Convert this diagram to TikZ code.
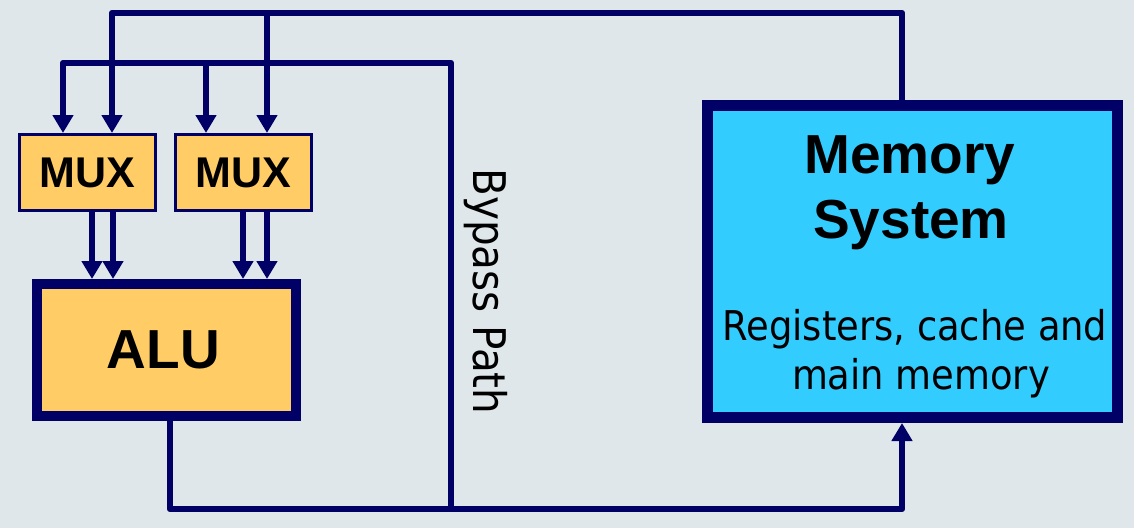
\documentclass[tikz,border=0pt]{standalone}
\usepackage{fontspec}
\setmainfont{Liberation Sans}
\newfontfamily\tahomalike{DejaVu Sans Condensed}
\usetikzlibrary{arrows.meta}
\definecolor{bgcol}{HTML}{DFE7EA}
\definecolor{navy}{HTML}{000066}
\definecolor{aluor}{HTML}{FFCC66}
\definecolor{memblue}{HTML}{33CCFF}
\begin{document}
\begin{tikzpicture}[x=1pt,y=-1pt,
  wire/.style={draw=navy,line width=6.5pt,line join=round},
  arr/.style={wire,-{Triangle[width=20pt,length=18pt]}},
  muxbox/.style={draw=navy,fill=aluor,line width=3pt,minimum width=136pt,minimum height=76pt,inner sep=0pt,font=\bfseries\fontsize{43}{50}\selectfont},
  alubox/.style={draw=navy,fill=aluor,line width=10pt,minimum width=259pt,minimum height=132pt,inner sep=0pt,font=\bfseries\fontsize{55}{64}\selectfont},
  membox/.style={draw=navy,fill=memblue,line width=11pt,minimum width=410pt,minimum height=312pt,inner sep=0pt},
  memtitle/.style={anchor=base,inner sep=0pt,font=\bfseries\fontsize{55}{64}\selectfont},
  memsub/.style={anchor=base,inner sep=0pt,font=\tahomalike\fontsize{41}{50}\selectfont},
  bypasslabel/.style={rotate=-90,anchor=base,inner sep=0pt,font=\tahomalike\fontsize{45}{54}\selectfont}
]
\fill[bgcol] (0,0) rectangle (1134,528);
\useasboundingbox (0,0) rectangle (1134,528);

% blocks
\node[muxbox] (mux1) at (87.5,172.5) {\raisebox{-3.5pt}{MUX}};
\node[muxbox] (mux2) at (243.5,172.5) {\raisebox{-3.5pt}{MUX}};
\node[alubox] (alu) at (166.5,350) {\hspace*{-6pt}ALU};
\node[membox] (mem) at (912.5,261.5) {};
\node[memtitle] (memt1) at (910,173) {Memory};
\node[memtitle] (memt2) at (911,238) {System};
\node[memsub] (mems1) at (915,340) {Registers, cache and};
\node[memsub] (mems2) at (921,389) {main memory};
\node[bypasslabel] (byp) at (473,291.5) {Bypass Path};

% junction coordinates
\coordinate (tr) at (902,13);
\coordinate (tl) at (112,13);
\coordinate (tj) at (267,13);
\coordinate (bl) at (63,63);
\coordinate (bj) at (206,63);
\coordinate (br) at (451,63);
\coordinate (bb) at (451,509);
\coordinate (alo) at (170,509);
\coordinate (mbo) at (902,509);

% memory output to MUX inputs
\draw[arr] (tr |- mem.north) -- (tr) -- (tl) -- (tl |- mux1.north);
\draw[arr] (tj) -- (tj |- mux2.north);

% bypass path to MUX inputs
\draw[arr] (bb) -- (br) -- (bl) -- (bl |- mux1.north);
\draw[arr] (bj) -- (bj |- mux2.north);

% ALU output to memory
\draw[arr] (alu.south -| alo) -- (alo) -- (mbo) -- (mbo |- mem.south);

% MUX outputs to ALU
\draw[arr] ([xshift=4.5pt]mux1.south) -- ([xshift=4.5pt]mux1.south |- alu.north);
\draw[arr] ([xshift=25.5pt]mux1.south) -- ([xshift=25.5pt]mux1.south |- alu.north);
\draw[arr] ([xshift=-0.5pt]mux2.south) -- ([xshift=-0.5pt]mux2.south |- alu.north);
\draw[arr] ([xshift=23.5pt]mux2.south) -- ([xshift=23.5pt]mux2.south |- alu.north);
\end{tikzpicture}
\end{document}
